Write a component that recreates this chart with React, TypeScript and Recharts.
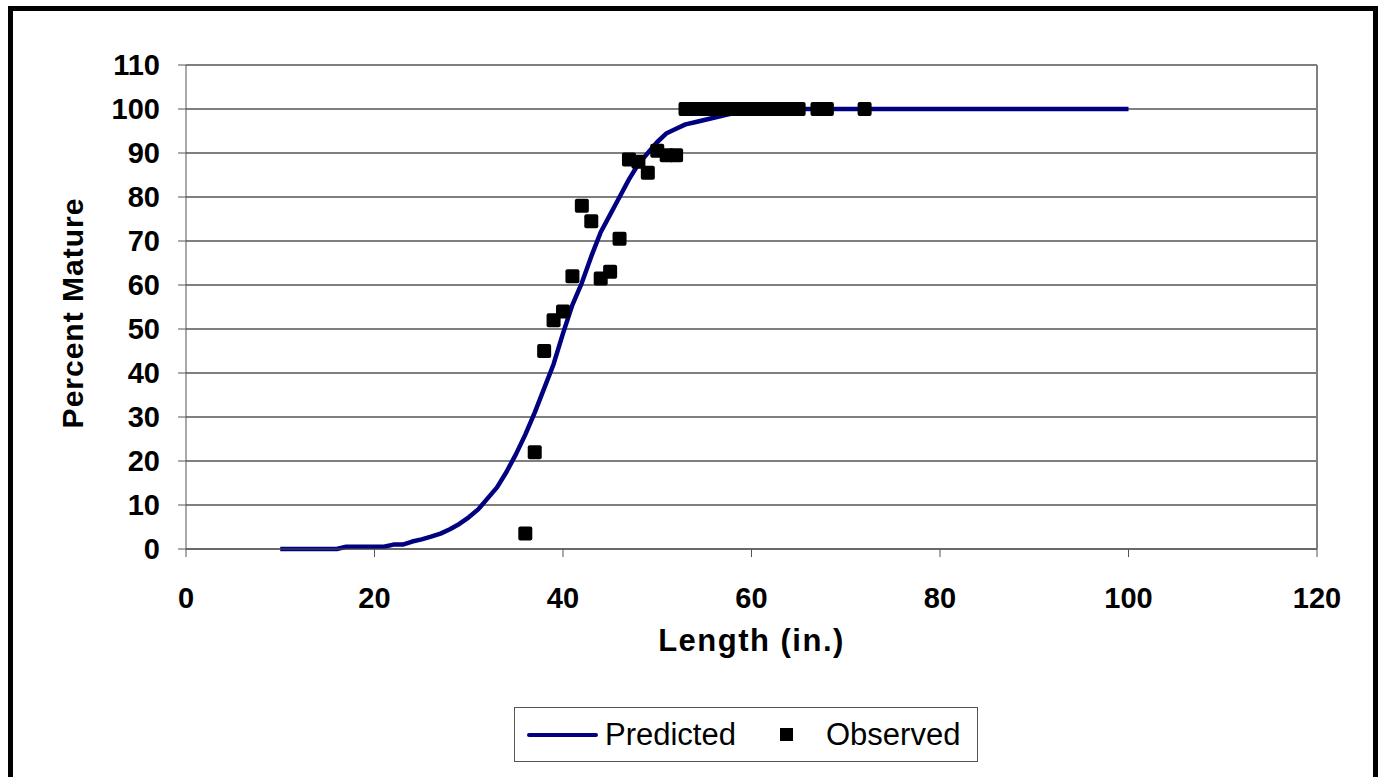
import React from "react";
import {
  ComposedChart,
  Line,
  Scatter,
  XAxis,
  YAxis,
  CartesianGrid,
  ReferenceLine,
  Label,
} from "recharts";

const FONT = '"Liberation Sans", Arial, sans-serif';

// predicted maturity curve (length in inches -> percent mature)
const predictedX = [
  10, 11, 12, 13, 14, 15, 16, 17, 18, 19, 20, 21, 22, 23, 24, 25, 26, 27, 28,
  29, 30, 31, 32, 33, 34, 35, 36, 37, 38, 39, 40, 41, 42, 43, 44, 45, 46, 47,
  48, 49, 50, 51, 52, 53, 54, 55, 56, 57, 58, 59, 60, 61, 62, 65, 70, 75, 80,
  85, 90, 95, 100,
];
const predictedY = [
  0, 0, 0, 0, 0, 0, 0, 0.5, 0.5, 0.5, 0.5, 0.5, 1, 1, 1.7, 2.2, 2.8, 3.5, 4.5,
  5.7, 7.2, 9, 11.5, 14, 17.5, 21.5, 26, 31, 36.5, 42, 49, 55.5, 60.5, 66.5,
  72, 76, 80, 84, 87.5, 90, 92.5, 94.5, 95.5, 96.5, 97, 97.5, 98, 98.5, 99,
  99.5, 99.5, 100, 100, 100, 100, 100, 100, 100, 100, 100, 100,
];

// observed data
const observedX = [
  36, 37, 38, 39, 40, 41, 42, 43, 44, 45, 46, 47, 48, 49, 50, 51, 52, 53, 54,
  55, 56, 57, 58, 59, 60, 61, 62, 63, 64, 65, 67, 68, 72,
];
const observedY = [
  3.5, 22, 45, 52, 54, 62, 78, 74.5, 61.5, 63, 70.5, 88.5, 88, 85.5, 90.5,
  89.5, 89.5, 100, 100, 100, 100, 100, 100, 100, 100, 100, 100, 100, 100, 100,
  100, 100, 100,
];

const xTicks = [0, 20, 40, 60, 80, 100, 120];
const yTicks = [0, 10, 20, 30, 40, 50, 60, 70, 80, 90, 100, 110];

const predicted = predictedX.map((x, i) => ({ x, y: predictedY[i] }));
const observed = observedX.map((x, i) => ({ x, y: observedY[i] }));

const tickStyle = {
  fontFamily: FONT,
  fontSize: 29,
  fontWeight: 700,
  fill: "#000",
};

function SquareDot(props: any) {
  const { cx, cy } = props;
  if (cx == null || cy == null) return null;
  return (
    <rect x={cx - 7} y={cy - 7} width={14} height={14} rx={2} fill="#000" />
  );
}

export default function App() {
  return (
    <div style={{ position: "fixed", left: 0, top: 0, width: 1380, height: 777, background: "#fff" }}>
      <div
        style={{
          position: "absolute",
          left: 8,
          top: 6,
          width: 1370,
          height: 800,
          border: "5px solid #000",
          boxSizing: "border-box",
        }}
      />
      <div style={{ position: "absolute", left: 0, top: 0 }}>
        <ComposedChart
          width={1380}
          height={777}
          margin={{ top: 65, right: 63, left: 106, bottom: 118 }}
        >
          <CartesianGrid vertical={false} stroke="#000" strokeWidth={1.2} />
          <XAxis
            type="number"
            dataKey="x"
            domain={[0, 120]}
            ticks={xTicks}
            interval={0}
            height={110}
            tickSize={8}
            tickMargin={30}
            stroke="#555"
            tick={tickStyle}
          >
            <Label
              content={(p: any) => {
                const vb = p.viewBox;
                return (
                  <text
                    x={vb.x + vb.width / 2}
                    y={vb.y + 102}
                    textAnchor="middle"
                    fontFamily={FONT}
                    fontSize={31}
                    fontWeight={700}
                    letterSpacing={1.5}
                    fill="#000"
                  >
                    Length (in.)
                  </text>
                );
              }}
            />
          </XAxis>
          <YAxis
            type="number"
            domain={[0, 110]}
            ticks={yTicks}
            interval={0}
            width={80}
            tickSize={8}
            tickMargin={18}
            stroke="#555"
            tick={tickStyle}
          >
            <Label
              content={(p: any) => {
                const vb = p.viewBox;
                const cy = vb.y + vb.height / 2 + 6;
                return (
                  <text
                    x={83}
                    y={cy}
                    transform={`rotate(-90 83 ${cy})`}
                    textAnchor="middle"
                    fontFamily={FONT}
                    fontSize={30}
                    fontWeight={700}
                    letterSpacing={1}
                    fill="#000"
                  >
                    Percent Mature
                  </text>
                );
              }}
            />
          </YAxis>
          <ReferenceLine x={120} stroke="#808080" strokeWidth={2} />
          <Line
            data={predicted}
            dataKey="y"
            type="linear"
            stroke="#000080"
            strokeWidth={4.5}
            dot={false}
            activeDot={false}
            isAnimationActive={false}
            strokeLinejoin="round"
          />
          <Scatter
            data={observed}
            dataKey="y"
            shape={SquareDot}
            isAnimationActive={false}
          />
        </ComposedChart>
      </div>
      <div
        style={{
          position: "absolute",
          left: 514,
          top: 707,
          width: 464,
          height: 55,
          border: "1.5px solid #555",
          boxSizing: "border-box",
          fontFamily: FONT,
          fontSize: 31,
          color: "#000",
          display: "flex",
          alignItems: "center",
        }}
      >
        <span
          style={{
            display: "inline-block",
            width: 71,
            height: 4,
            background: "#000080",
            borderRadius: 2,
            marginLeft: 12,
          }}
        />
        <span style={{ marginLeft: 7 }}>Predicted</span>
        <span
          style={{
            display: "inline-block",
            width: 13,
            height: 13,
            background: "#000",
            marginLeft: 44,
          }}
        />
        <span style={{ marginLeft: 33 }}>Observed</span>
      </div>
    </div>
  );
}
